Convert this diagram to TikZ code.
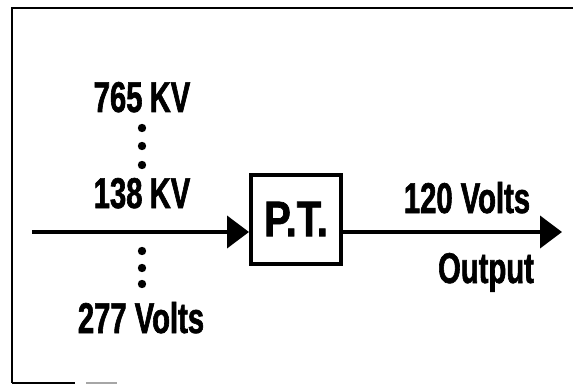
\documentclass[tikz,border=0pt]{standalone}
\usepackage{fontspec}
\setmainfont{Liberation Sans}[FakeStretch=0.68, FakeBold=1.4]
\newfontfamily\boxfont{Liberation Sans}[FakeStretch=0.8, FakeBold=1.4]
\usepackage{tikz}
\usetikzlibrary{arrows.meta,positioning}

\begin{document}
\begin{tikzpicture}[
  x=1pt, y=-1pt,
  lbl/.style={font=\fontsize{43}{43}\selectfont\bfseries, inner sep=0pt, anchor=base},
  ptbox/.style={draw, line width=4pt, minimum width=90pt, minimum height=89pt, inner sep=0pt, font=\boxfont\fontsize{50}{50}\selectfont\bfseries},
  frame/.style={line width=2.2pt},
  arr/.style={-{Triangle[length=22pt, width=32pt]}, line width=4pt}
]
\useasboundingbox (0,0) rectangle (573,385);
% frame of the scan
\draw[frame] (12,383) -- (12,8) -- (573,8);
\draw[frame] (12,383) -- (75,383);
\draw[frame, black!35] (86,383) -- (117,383);

\node[ptbox] (pt) at (296,219) {\raisebox{-2pt}{P.T.}};
\coordinate (src) at (32,232);
\coordinate (out) at (562,232);

\node[lbl] (hi) at (142,112) {765\,KV};
\node[lbl] (mid) at (142,208) {138\,KV};
\node[lbl] (lo) at (141,333) {277 Volts};
\node[lbl] (sec) at (467,213) {120 Volts};
\node[lbl] (outlbl) at (486,283) {Output};

\foreach \y in {128,146,165,251,268,284}
  \fill (142,\y) circle (4.2pt);

\draw[arr] (src) -- (src -| pt.west);
\draw[arr] (pt.east |- out) -- (out);
\end{tikzpicture}
\end{document}
